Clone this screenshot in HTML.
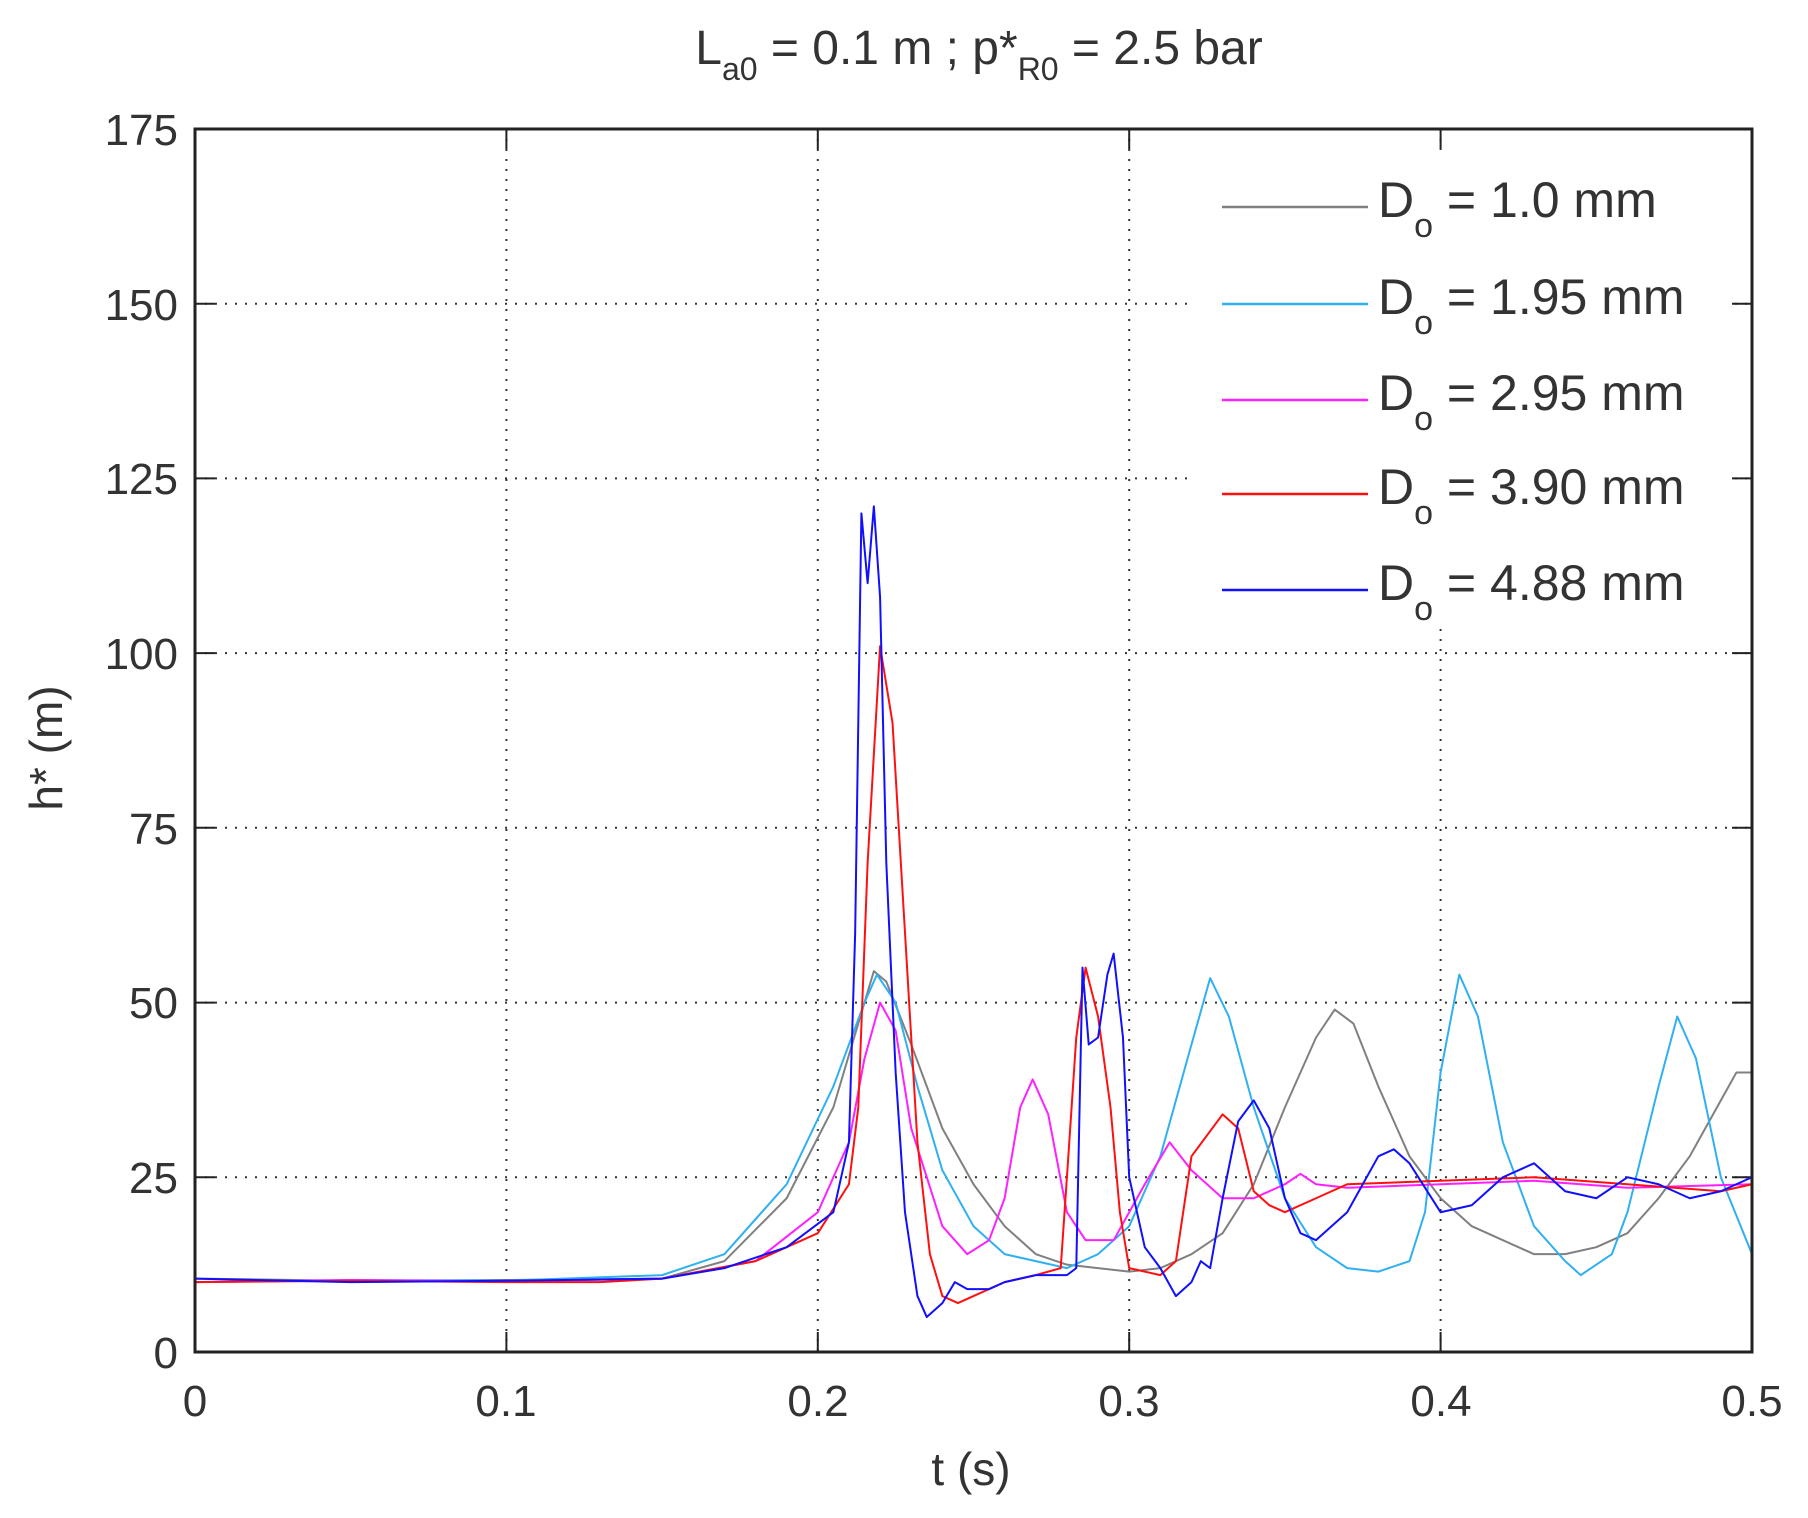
<!DOCTYPE html>
<html><head><meta charset="utf-8"><style>body{margin:0;background:#fff}svg{display:block}text{font-family:"Liberation Sans",sans-serif;fill:#333}</style></head><body>
<svg width="1808" height="1518" viewBox="0 0 1808 1518" xmlns="http://www.w3.org/2000/svg">
<rect width="1808" height="1518" fill="#fff"/>
<g stroke="#333" stroke-width="2" stroke-dasharray="2,8">
<line x1="506.4" y1="129" x2="506.4" y2="1352"/><line x1="817.8" y1="129" x2="817.8" y2="1352"/><line x1="1129.2" y1="129" x2="1129.2" y2="1352"/><line x1="1440.6" y1="129" x2="1440.6" y2="1352"/>
<line x1="195" y1="1177.3" x2="1752" y2="1177.3"/><line x1="195" y1="1002.6" x2="1752" y2="1002.6"/><line x1="195" y1="827.8" x2="1752" y2="827.8"/><line x1="195" y1="653.1" x2="1752" y2="653.1"/><line x1="195" y1="478.4" x2="1752" y2="478.4"/><line x1="195" y1="303.7" x2="1752" y2="303.7"/>
</g>
<rect x="1190" y="150" width="540" height="474" fill="#fff"/>
<g stroke="#222" stroke-width="2">
<line x1="1732" y1="1177.3" x2="1752" y2="1177.3"/><line x1="1732" y1="1002.6" x2="1752" y2="1002.6"/><line x1="1732" y1="827.8" x2="1752" y2="827.8"/><line x1="1732" y1="653.1" x2="1752" y2="653.1"/><line x1="1732" y1="478.4" x2="1752" y2="478.4"/><line x1="1732" y1="303.7" x2="1752" y2="303.7"/>
<line x1="195" y1="1177.3" x2="215" y2="1177.3"/><line x1="195" y1="1002.6" x2="215" y2="1002.6"/><line x1="195" y1="827.8" x2="215" y2="827.8"/><line x1="195" y1="653.1" x2="215" y2="653.1"/><line x1="195" y1="478.4" x2="215" y2="478.4"/><line x1="195" y1="303.7" x2="215" y2="303.7"/>
<line x1="506.4" y1="1352" x2="506.4" y2="1332"/><line x1="817.8" y1="1352" x2="817.8" y2="1332"/><line x1="1129.2" y1="1352" x2="1129.2" y2="1332"/><line x1="1440.6" y1="1352" x2="1440.6" y2="1332"/>
<line x1="506.4" y1="129" x2="506.4" y2="149"/><line x1="817.8" y1="129" x2="817.8" y2="149"/><line x1="1129.2" y1="129" x2="1129.2" y2="149"/><line x1="1440.6" y1="129" x2="1440.6" y2="149"/>
</g>
<g transform="translate(195,1352) scale(3114,-6.989)" fill="none" stroke-width="2" stroke-linejoin="round">
<polyline vector-effect="non-scaling-stroke" stroke="#808080" points="0,10.5 0.05,10.2 0.1,10.3 0.15,10.5 0.17,13 0.19,22 0.205,35 0.215,50 0.218,54.5 0.222,53 0.23,44 0.24,32 0.25,24 0.26,18 0.27,14 0.28,12.5 0.29,12 0.3,11.5 0.31,12 0.32,14 0.33,17 0.34,24 0.35,35 0.36,45 0.366,49 0.372,47 0.38,38 0.39,28 0.4,22 0.41,18 0.42,16 0.43,14 0.44,14 0.45,15 0.46,17 0.47,22 0.48,28 0.49,36 0.495,40 0.5,40"/>
<polyline vector-effect="non-scaling-stroke" stroke="#30b0f0" points="0,10 0.05,10.3 0.1,10.2 0.15,11 0.17,14 0.19,24 0.205,38 0.215,50 0.219,54 0.225,50 0.232,38 0.24,26 0.25,18 0.26,14 0.27,13 0.28,12 0.29,14 0.3,18 0.31,28 0.32,44 0.326,53.5 0.332,48 0.34,35 0.35,22 0.36,15 0.37,12 0.38,11.5 0.39,13 0.395,20 0.4,40 0.406,54 0.412,48 0.42,30 0.43,18 0.44,13 0.445,11 0.455,14 0.46,20 0.47,38 0.476,48 0.482,42 0.49,25 0.5,14"/>
<polyline vector-effect="non-scaling-stroke" stroke="#ff20ff" points="0,10 0.05,10.3 0.1,10.1 0.15,10.5 0.18,13 0.2,20 0.21,30 0.215,42 0.22,50 0.225,46 0.23,32 0.24,18 0.248,14 0.255,16 0.26,22 0.265,35 0.269,39 0.274,34 0.28,20 0.286,16 0.295,16 0.305,24 0.313,30 0.32,26 0.33,22 0.34,22 0.35,24 0.355,25.5 0.36,24 0.37,23.5 0.4,24 0.43,24.5 0.46,23.5 0.5,24"/>
<polyline vector-effect="non-scaling-stroke" stroke="#ff1010" points="0,10 0.05,10.2 0.1,10 0.13,10 0.15,10.5 0.18,13 0.2,17 0.21,24 0.213,35 0.216,70 0.22,101 0.224,90 0.228,60 0.232,30 0.236,14 0.24,8 0.245,7 0.25,8 0.26,10 0.27,11 0.278,12 0.28,25 0.283,45 0.286,55 0.29,48 0.294,35 0.297,20 0.3,12 0.31,11 0.315,13 0.32,28 0.325,31 0.33,34 0.335,32 0.34,23 0.345,21 0.35,20 0.36,22 0.37,24 0.4,24.5 0.43,25 0.46,24 0.49,23 0.5,24"/>
<polyline vector-effect="non-scaling-stroke" stroke="#1010ff" points="0,10.5 0.05,10 0.1,10.2 0.15,10.5 0.17,12 0.19,15 0.205,20 0.21,30 0.212,60 0.214,120 0.216,110 0.218,121 0.22,108 0.222,70 0.225,40 0.228,20 0.232,8 0.235,5 0.24,7 0.244,10 0.248,9 0.255,9 0.26,10 0.27,11 0.28,11 0.283,12 0.285,55 0.287,44 0.29,45 0.293,54 0.295,57 0.298,45 0.3,25 0.305,15 0.31,12 0.315,8 0.32,10 0.323,13 0.326,12 0.33,22 0.335,33 0.34,36 0.345,32 0.35,22 0.355,17 0.36,16 0.37,20 0.38,28 0.385,29 0.39,27 0.4,20 0.41,21 0.42,25 0.43,27 0.44,23 0.45,22 0.46,25 0.47,24 0.48,22 0.49,23 0.5,25"/>
</g>
<rect x="195" y="129" width="1557" height="1223" fill="none" stroke="#222" stroke-width="3"/>
<g stroke-width="2.5"><line x1="1222" y1="207" x2="1368" y2="207" stroke="#808080"/><line x1="1222" y1="304" x2="1368" y2="304" stroke="#30b0f0"/><line x1="1222" y1="400" x2="1368" y2="400" stroke="#ff20ff"/><line x1="1222" y1="494" x2="1368" y2="494" stroke="#ff1010"/><line x1="1222" y1="590" x2="1368" y2="590" stroke="#1010ff"/></g>
<g font-size="50">
<text x="1378" y="217">D<tspan font-size="34" dy="20">o</tspan><tspan dy="-20"> = 1.0 mm</tspan></text>
<text x="1378" y="314">D<tspan font-size="34" dy="20">o</tspan><tspan dy="-20"> = 1.95 mm</tspan></text>
<text x="1378" y="410">D<tspan font-size="34" dy="20">o</tspan><tspan dy="-20"> = 2.95 mm</tspan></text>
<text x="1378" y="504">D<tspan font-size="34" dy="20">o</tspan><tspan dy="-20"> = 3.90 mm</tspan></text>
<text x="1378" y="600">D<tspan font-size="34" dy="20">o</tspan><tspan dy="-20"> = 4.88 mm</tspan></text>
</g>
<g font-size="44" text-anchor="end">
<text x="178" y="1368">0</text><text x="178" y="1193">25</text><text x="178" y="1018">50</text><text x="178" y="844">75</text><text x="178" y="669">100</text><text x="178" y="494">125</text><text x="178" y="320">150</text><text x="178" y="145">175</text>
</g>
<g font-size="44" text-anchor="middle">
<text x="195" y="1416">0</text><text x="506" y="1416">0.1</text><text x="818" y="1416">0.2</text><text x="1129" y="1416">0.3</text><text x="1441" y="1416">0.4</text><text x="1752" y="1416">0.5</text>
<text x="971" y="1485" font-size="46">t  (s)</text>
<text transform="translate(62,748) rotate(-90)" font-size="46">h*  (m)</text>
<text x="979" y="64" font-size="48">L<tspan font-size="32" dy="16">a0</tspan><tspan dy="-16"> = 0.1 m ;  p*</tspan><tspan font-size="32" dy="16">R0</tspan><tspan dy="-16"> = 2.5 bar</tspan></text>
</g>
</svg>
</body></html>
